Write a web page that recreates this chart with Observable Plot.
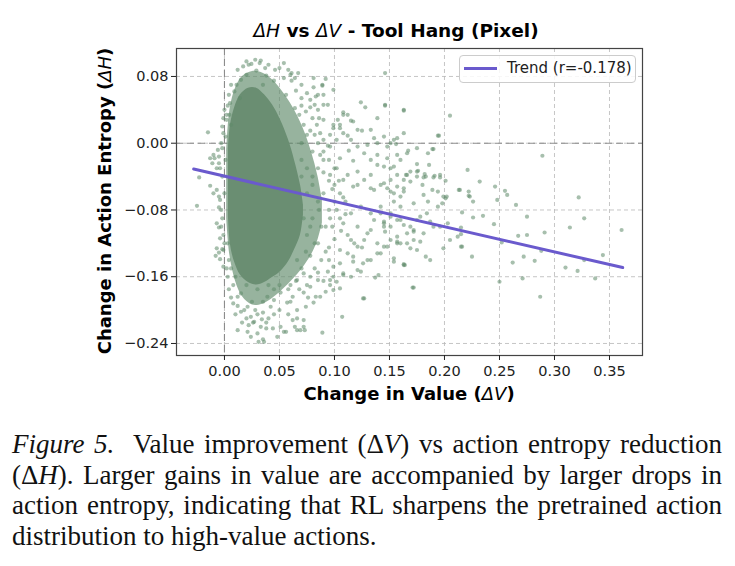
<!DOCTYPE html>
<html>
<head>
<meta charset="utf-8">
<script src="https://cdn.jsdelivr.net/npm/d3@7"></script>
<script src="https://cdn.jsdelivr.net/npm/@observablehq/plot@0.6"></script>
<style>
  html, body { margin: 0; padding: 0; background: #fff; }
  #wrap { position: relative; width: 735px; height: 566px; overflow: hidden; font-family: "DejaVu Sans", sans-serif; }
  #chart { position: absolute; left: 0; top: 0; }
  .abs { position: absolute; white-space: nowrap; }
  #title { left: 396px; top: 30px; transform: translate(-50%, -50%); font-size: 18.5px; font-weight: bold; color: #000; }
  #ylab { left: 104px; top: 201px; transform: translate(-50%, -50%) rotate(-90deg); font-size: 18px; font-weight: bold; }
  #xlab { left: 409px; top: 393px; transform: translate(-50%, -50%); font-size: 18px; font-weight: bold; }
  .m { font-style: italic; font-weight: normal; }
  #legend { left: 459px; top: 55px; width: 175px; height: 26px; border: 1px solid #cccccc; border-radius: 4px; background: rgba(255,255,255,0.85); }
  #legline { position: absolute; left: 4px; top: 11px; width: 33px; height: 3px; background: #6a5acd; }
  #legtext { position: absolute; left: 47px; top: 3px; font-size: 15px; color: #222; }
  #caption { left: 12px; top: 429px; width: 710px; font-family: "Liberation Serif", "Times New Roman", serif; font-size: 27px; line-height: 30.7px; color: #111; }
  #caption .ln { white-space: nowrap; text-align: justify; text-align-last: justify; }
  #caption .last { white-space: nowrap; text-align: left; }
</style>
</head>
<body>
<div id="wrap">
  <div id="chart"></div>
  <div class="abs" id="title"><span class="m">ΔH</span> vs <span class="m">ΔV</span> - Tool Hang (Pixel)</div>
  <div class="abs" id="ylab">Change in Action Entropy (<span class="m">ΔH</span>)</div>
  <div class="abs" id="xlab">Change in Value (<span class="m">ΔV</span>)</div>
  <div class="abs" id="legend"><div id="legline"></div><div id="legtext">Trend (r=-0.178)</div></div>
  <div class="abs" id="caption">
    <div class="ln"><i>Figure 5.</i>&nbsp; Value improvement (Δ<i>V</i>) vs action entropy reduction</div>
    <div class="ln">(Δ<i>H</i>). Larger gains in value are accompanied by larger drops in</div>
    <div class="ln">action entropy, indicating that RL sharpens the pretrained action</div>
    <div class="last">distribution to high-value actions.</div>
  </div>
</div>
<script>
// ---- tick values ----
const xTicks = [0.00, 0.05, 0.10, 0.15, 0.20, 0.25, 0.30, 0.35];
const yTicks = [0.08, 0.00, -0.08, -0.16, -0.24];

// ---- trend line (r = -0.178) ----
const trendDV = [-0.028, 0.362];
const trendDH = [-0.031, -0.149];

// ---- dense core of the cloud (solid region) ----
const coreDV   = [0.0036, 0.0055, 0.0091, 0.0145, 0.0218, 0.0291, 0.0364, 0.0436, 0.0509, 0.0582, 0.0636, 0.0691, 0.0718];
const coreLow  = [-0.086, -0.122, -0.142, -0.158, -0.167, -0.170, -0.167, -0.161, -0.154, -0.142, -0.128, -0.110, -0.086];
const coreHigh = [-0.008, 0.022, 0.042, 0.058, 0.066, 0.066, 0.058, 0.046, 0.028, 0.004, -0.020, -0.050, -0.074];

// ---- medium-density halo around the core ----
const haloDV   = [0.0020, 0.0050, 0.0100, 0.0164, 0.0255, 0.0345, 0.0436, 0.0527, 0.0618, 0.0709, 0.0790, 0.0850, 0.0890];
const haloLow  = [-0.090, -0.135, -0.165, -0.184, -0.194, -0.193, -0.186, -0.176, -0.164, -0.150, -0.134, -0.116, -0.096];
const haloHigh = [-0.010, 0.040, 0.066, 0.080, 0.086, 0.084, 0.076, 0.062, 0.044, 0.020, -0.010, -0.040, -0.068];

// ---- individually visible points (ΔV, ΔH) ----
const pointDV = [
  -0.015,-0.025,-0.023,-0.007,-0.013,-0.009,-0.005,-0.005,-0.011,-0.005,-0.003,-0.007,-0.005,-0.001,-0.008,-0.005,-0.004,-0.005,-0.007,-0.010,-0.001,0.002,0.005,-0.006,-0.002,0.001,-0.004,-0.002,-0.004,-0.001,-0.013,-0.010,-0.007,
  0.017,0.0245,0.032,0.037,0.029,0.020,0.015,0.038,0.054,0.050,0.061,0.054,0.045,0.011,0.009,0.014,0.035,0.061,0.065,0.070,0.056,0.0045,0.002,0.006,0.068,0.072,0.064,0.022,0.033,0.067,0.060,0.081,0.089,0.092,0.099,0.085,0.090,0.094,0.085,0.078,0.146,0.124,0.128,0.108,0.112,0.117,0.103,0.099,0.105,
  0.081,0.089,0.083,0.090,0.146,0.163,0.139,0.146,0.163,0.205,0.194,0.154,0.156,0.167,0.190,0.289,
  0.133,0.145,0.139,0.148,0.157,0.163,0.166,0.160,0.154,0.145,0.133,0.127,0.121,0.115,0.108,0.102,0.096,0.090,0.087,
  0.108,0.115,0.121,0.105,0.099,0.096,0.090,0.084,0.078,0.112,0.125,0.136,0.151,0.130,0.113,0.094,0.087,0.105,0.117,0.139,0.148,0.157,0.175,0.151,0.139,0.133,0.121,0.112,0.102,0.096,0.121,0.133,0.142,0.151,0.163,0.169,0.157,0.175,0.166,
  0.108,0.117,0.127,0.136,0.145,0.154,0.163,0.160,0.151,0.142,0.133,0.124,0.115,0.108,0.121,0.133,0.145,0.157,0.166,0.139,0.127,0.115,0.105,0.117,0.130,0.142,0.121,0.108,0.127,0.107,0.099,0.096,0.087,0.081,0.089,0.072,0.066,0.051,0.054,0.035,0.031,0.024,0.021,0.012,0.033,0.026,0.034,0.024,0.028,0.035,0.042,0.021,0.015,0.045,0.051,0.057,0.062,0.039,0.012,0.008,0.072,0.078,0.085,0.066,0.072,0.060,
  0.036,0.038,0.027,0.056,0.064,0.073,0.072,
  0.126,0.069,0.066,0.074,0.083,0.092,0.099,0.105,0.137,0.140,0.172,0.163,0.154,0.124,0.117,0.126,0.133,0.139,0.145,0.151,0.157,0.166,0.172,0.160,0.151,0.145,0.136,0.130,0.121,0.112,0.105,0.099,0.094,0.096,0.102,0.108,0.115,
  0.195,0.189,0.185,0.186,0.175,0.176,0.182,0.183,0.191,0.196,0.221,0.232,0.201,0.180,0.189,0.194,0.213,0.222,0.222,0.246,0.255,0.257,0.248,0.199,0.202,0.322,
  0.265,0.275,0.327,0.314,0.361,0.291,0.267,0.275,0.245,0.235,0.226,0.223,0.226,0.214,0.216,0.215,0.215,0.216,0.225,0.252,0.250,0.262,0.271,0.272,0.282,0.287,0.288,0.310,0.321,0.327,0.337,0.344,0.171,0.164,
  0.142,0.145,0.151,0.157,0.163,0.169,0.172,0.175,0.178,0.184,0.187,0.190,0.196,0.172,0.178,0.181,0.160,0.157,0.148,0.146,0.154,0.169,0.175,0.163,0.183,0.187,0.199,0.205,0.212,0.215,0.203,0.198,0.201,0.194,0.185,0.181,0.172,0.160,0.154,0.163,0.157,0.148,0.151,0.165,0.169,0.175,0.181,0.190,0.196,
  0.070,0.075,0.080,0.085,0.090,0.095,0.100,0.080,0.088,0.098,0.105,0.075,0.085,0.095,0.078,0.070,0.082,0.065,0.075,0.058,0.050,0.045,0.040,0.030,0.020,0.015,0.025,0.035,0.010,0.006,0.004,0.003,0.070,0.075,0.080,0.085,0.090,0.095,0.100,0.105,0.110,0.112,0.118,0.125,
  0.012,0.020,0.028,0.040,0.046,0.058,0.064,0.070,0.075,0.078,0.082,0.074,0.080,0.086,0.070,0.006,0.004,0.003,0.000,-0.002,
  0.085,0.082,0.090,0.095,0.100,0.090,0.098,0.104,0.108,0.102,0.110,0.106,0.100,0.092,0.088,0.095,0.085,0.078,0.090,0.068,0.076,0.060,0.066,
  0.050,0.045,0.040,0.030,0.020,0.018,0.012,0.010,0.006,0.004,0.008,0.038,0.044,0.048,0.030,0.022,0.016,0.058,0.062,
  -0.002,-0.003,-0.001,0.000,-0.002,-0.004,0.001,0.000,0.002,0.003,-0.003,-0.001,
  0.070,0.075,0.080,0.072,0.078,0.082,0.074,0.066,0.086,0.092,0.096
];
const pointDH = [
  0.013,-0.075,-0.041,-0.096,-0.051,-0.018,-0.016,-0.024,-0.024,-0.101,-0.100,-0.126,-0.131,-0.128,-0.135,-0.064,-0.068,-0.077,-0.056,-0.060,0.030,0.034,0.048,-0.008,-0.006,0.008,-0.114,-0.127,-0.139,-0.148,-0.018,-0.014,-0.030,
  0.092,0.095,0.096,0.090,0.087,0.082,0.076,0.081,0.096,0.090,0.084,0.078,0.075,0.070,0.062,0.054,0.070,0.075,0.063,0.054,0.058,0.034,0.028,0.022,0.034,0.022,0.042,0.094,0.099,0.084,0.082,0.067,0.070,0.077,0.064,0.058,0.058,0.046,0.040,0.043,0.084,0.049,0.043,0.037,0.034,0.026,0.028,0.022,0.018,
  0.078,0.069,0.056,0.046,0.046,0.040,0.030,0.045,0.039,0.033,0.009,0.004,-0.001,-0.009,-0.007,-0.015,
  0.016,0.008,0.000,-0.004,0.006,0.012,-0.012,-0.020,-0.028,-0.028,-0.020,-0.012,-0.004,0.004,0.012,0.004,-0.004,0.004,0.012,
  0.034,0.027,0.016,0.022,0.018,0.010,0.028,0.022,0.015,0.009,0.015,0.006,0.000,-0.002,-0.009,-0.003,-0.014,-0.018,-0.021,-0.014,-0.018,-0.014,-0.006,-0.030,-0.026,-0.038,-0.034,-0.038,-0.030,-0.038,-0.050,-0.054,-0.050,-0.058,-0.054,-0.046,-0.038,-0.034,-0.038,
  -0.044,-0.052,-0.044,-0.056,-0.048,-0.060,-0.044,-0.076,-0.084,-0.076,-0.084,-0.076,-0.084,-0.096,-0.100,-0.104,-0.100,-0.112,-0.120,-0.120,-0.116,-0.116,-0.128,-0.136,-0.140,-0.132,-0.152,-0.156,-0.186,-0.208,-0.160,-0.170,-0.184,-0.191,-0.227,-0.220,-0.224,-0.220,-0.226,-0.235,-0.238,-0.232,-0.226,-0.224,-0.220,-0.215,-0.211,-0.208,-0.200,-0.203,-0.196,-0.196,-0.202,-0.188,-0.179,-0.191,-0.184,-0.184,-0.184,-0.192,-0.179,-0.172,-0.164,-0.164,-0.156,-0.170,
  -0.238,-0.222,-0.214,-0.226,-0.220,-0.224,-0.212,
  -0.186,-0.224,-0.210,-0.196,-0.184,-0.178,-0.176,-0.174,-0.161,-0.158,-0.173,-0.146,-0.142,-0.154,-0.142,-0.144,-0.140,-0.132,-0.124,-0.116,-0.120,-0.108,-0.104,-0.092,-0.088,-0.096,-0.092,-0.108,-0.124,-0.132,-0.144,-0.148,-0.154,-0.164,-0.166,-0.158,-0.160,
  0.009,-0.007,-0.012,-0.026,-0.025,-0.033,-0.037,-0.040,-0.039,-0.038,-0.032,-0.046,-0.045,-0.050,-0.056,-0.058,-0.056,-0.058,-0.063,-0.052,-0.057,-0.062,-0.068,-0.064,-0.064,-0.065,
  -0.074,-0.088,-0.090,-0.101,-0.104,-0.107,-0.111,-0.110,-0.097,-0.087,-0.089,-0.064,-0.070,-0.056,-0.083,-0.101,-0.109,-0.124,-0.136,-0.119,-0.166,-0.143,-0.162,-0.136,-0.141,-0.184,-0.129,-0.149,-0.153,-0.140,-0.162,-0.134,-0.173,-0.146,
  -0.084,-0.094,-0.100,-0.092,-0.098,-0.100,-0.106,-0.092,-0.088,-0.084,-0.094,-0.100,-0.100,-0.116,-0.118,-0.108,-0.120,-0.118,-0.124,-0.106,-0.138,-0.126,-0.128,-0.145,-0.136,-0.140,-0.126,-0.116,-0.112,-0.124,-0.096,-0.072,-0.066,-0.076,-0.070,-0.062,-0.072,-0.064,-0.070,-0.058,-0.052,-0.054,-0.044,-0.038,-0.034,-0.040,-0.041,-0.041,-0.041,
  -0.040,-0.060,-0.050,-0.070,-0.060,-0.080,-0.070,-0.090,-0.100,-0.100,-0.090,-0.110,-0.120,-0.125,-0.135,-0.150,-0.150,-0.165,-0.170,-0.175,-0.170,-0.175,-0.170,-0.175,-0.170,-0.180,-0.190,-0.190,-0.160,-0.150,-0.140,-0.120,0.000,0.010,-0.010,-0.030,-0.020,-0.045,-0.050,-0.060,-0.070,-0.110,-0.120,-0.125,
  0.088,0.098,0.100,0.094,0.088,0.088,0.078,0.070,0.060,0.052,0.046,0.038,0.030,0.030,0.045,0.070,0.058,0.045,0.040,0.020,
  0.000,0.010,-0.010,-0.020,-0.030,-0.035,-0.055,-0.045,-0.065,-0.080,-0.085,-0.105,-0.115,-0.130,-0.140,-0.140,-0.155,-0.160,-0.165,-0.175,-0.185,-0.190,-0.200,
  -0.200,-0.205,-0.210,-0.205,-0.210,-0.200,-0.195,-0.205,-0.185,-0.175,-0.170,-0.215,-0.222,-0.232,-0.228,-0.218,-0.215,-0.205,-0.212,
  -0.090,-0.080,-0.110,-0.120,-0.040,-0.030,-0.020,-0.060,-0.150,-0.160,0.000,0.012,
  -0.020,-0.030,-0.040,-0.090,-0.100,-0.120,-0.130,-0.140,-0.080,-0.100,-0.090
];

const points = pointDV.map((v, i) => ({dv: v, dh: pointDH[i]}));
const core = coreDV.map((v, i) => ({dv: v, lo: coreLow[i], hi: coreHigh[i]}));
const halo = haloDV.map((v, i) => ({dv: v, lo: haloLow[i], hi: haloHigh[i]}));
const trend = trendDV.map((v, i) => ({dv: v, dh: trendDH[i]}));

const fmt = d => (d < 0 ? "\u2212" : "") + Math.abs(d).toFixed(2);
const dotColor = "#5f8a6a";

const chart = Plot.plot({
  width: 735,
  height: 410,
  marginLeft: 176,
  marginRight: 93,
  marginTop: 48,
  marginBottom: 55,
  style: {fontFamily: "DejaVu Sans, sans-serif", fontSize: "14.5px", color: "#222", background: "transparent"},
  x: {domain: [-0.0436, 0.38]},
  y: {domain: [-0.2544, 0.1135]},
  marks: [
    Plot.gridX(xTicks, {stroke: "#b8b8b8", strokeOpacity: 0.8, strokeDasharray: "4,3"}),
    Plot.gridY(yTicks, {stroke: "#b8b8b8", strokeOpacity: 0.8, strokeDasharray: "4,3"}),
    Plot.ruleX([0], {stroke: "#8c8c8c", strokeDasharray: "7,4", strokeWidth: 1.1}),
    Plot.ruleY([0], {stroke: "#8c8c8c", strokeDasharray: "7,4", strokeWidth: 1.1}),
    Plot.areaY(halo, {x: "dv", y1: "lo", y2: "hi", fill: dotColor, fillOpacity: 0.65, curve: "catmull-rom"}),
    Plot.areaY(core, {x: "dv", y1: "lo", y2: "hi", fill: "#6a8e72", fillOpacity: 1, curve: "catmull-rom"}),
    Plot.dot(points, {x: "dv", y: "dh", r: 2.1, fill: dotColor, fillOpacity: 0.55, stroke: "none"}),
    Plot.line(trend, {x: "dv", y: "dh", stroke: "#6a5acd", strokeWidth: 3}),
    Plot.frame({stroke: "#444", strokeWidth: 1.2}),
    Plot.axisX({ticks: xTicks, tickFormat: fmt, tickSize: 5, tickPadding: 5, label: null, fontSize: 14.5}),
    Plot.axisY({ticks: yTicks, tickFormat: fmt, tickSize: 5, tickPadding: 3, label: null, fontSize: 14.5})
  ]
});
document.getElementById("chart").appendChild(chart);
</script>
</body>
</html>
